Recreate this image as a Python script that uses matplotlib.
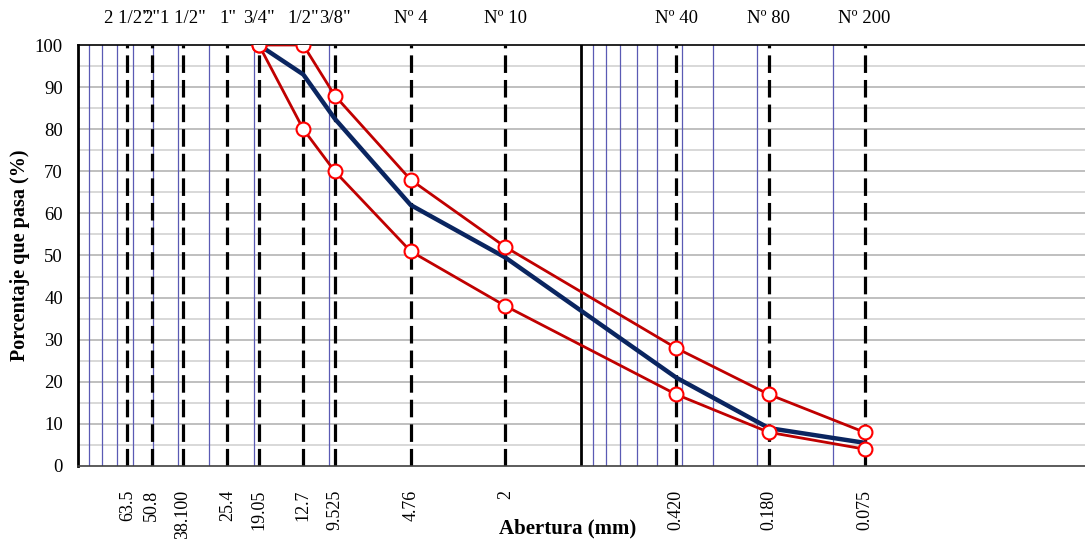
import matplotlib
matplotlib.use('Agg')
import matplotlib.pyplot as plt

# sieve openings (mm) and names
aberturas = [63.5, 50.8, 38.1, 25.4, 19.05, 12.7, 9.525, 4.76, 2.0, 0.42, 0.18, 0.075]
etiquetas = ['63.5', '50.8', '38.100', '25.4', '19.05', '12.7', '9.525', '4.76', '2',
             '0.420', '0.180', '0.075']
tamices = ['2 1/2"', '2"', '1 1/2"', '1"', '3/4"', '1/2"', '3/8"', 'Nº 4', 'Nº 10',
           'Nº 40', 'Nº 80', 'Nº 200']

# gradation band and curve
abert_huso = [19.05, 12.7, 9.525, 4.76, 2.0, 0.42, 0.18, 0.075]
huso_sup = [100, 100, 88, 68, 52, 28, 17, 8]
huso_inf = [100, 80, 70, 51, 38, 17, 8, 4]
curva = [100, 93, 82.5, 62, 49.5, 21, 9, 5.5]

# minor vertical grid (mm)
grid_azul = [90, 80, 70, 60, 50, 40, 30, 20, 10, 0.9, 0.8, 0.7, 0.6, 0.5, 0.4, 0.3, 0.2, 0.1]

plt.rcParams['font.family'] = ['Liberation Serif', 'DejaVu Serif']

fig = plt.figure(figsize=(10.85, 5.39), dpi=100)
ax = fig.add_axes([0.0715, 0.1355, 0.9285, 0.781])
ax.set_xscale('log')
ax.set_xlim(100, 0.01)
ax.set_ylim(0, 100)

for y in range(5, 100, 5):
    ax.axhline(y, color='#b4b4b4' if y % 10 == 0 else '#d2d2d2', lw=1.2, zorder=1)
for g in grid_azul:
    ax.axvline(g, color='#5a5ab4', lw=0.9, zorder=1)
ax.axvline(1.0, color='black', lw=2, zorder=2)
for a in aberturas:
    ax.axvline(a, color='black', lw=2.3, dashes=(5.5, 2.2), zorder=2)

ax.plot(abert_huso, huso_sup, color='#c00000', lw=2, marker='o', ms=10,
        mfc='white', mec='red', mew=1.5, zorder=4)
ax.plot(abert_huso, huso_inf, color='#c00000', lw=2, marker='o', ms=10,
        mfc='white', mec='red', mew=1.5, zorder=4)
ax.plot(abert_huso, curva, color='#0a2560', lw=3.2, zorder=3)

ax.set_xticks(aberturas)
ax.set_xticklabels(etiquetas, rotation=90, va='top', fontsize=13)
ax.xaxis.set_minor_locator(matplotlib.ticker.NullLocator())
ax.tick_params(axis='x', length=0, pad=17)
ax.set_yticks(range(0, 101, 10))
ax.tick_params(axis='y', length=0, pad=10.5, labelsize=13.5)

ax.set_xlabel('Abertura (mm)', fontweight='bold', fontsize=15)
ax.xaxis.set_label_coords(0.4865, -0.124)
ax.set_ylabel('Porcentaje que pasa (%)', fontweight='bold', fontsize=14.5)
ax.yaxis.set_label_coords(-0.0475, 0.5)

secax = ax.secondary_xaxis('top')
secax.set_xticks(aberturas)
secax.set_xticklabels(tamices, fontsize=13.5)
secax.xaxis.set_minor_locator(matplotlib.ticker.NullLocator())
secax.tick_params(length=0, pad=13)
secax.spines['top'].set_visible(False)

ax.spines['left'].set_linewidth(2)
ax.spines['bottom'].set_color('#404040')
ax.spines['bottom'].set_linewidth(1.2)
ax.spines['top'].set_linewidth(1.2)
ax.spines['right'].set_visible(False)

fig.savefig('out.png', dpi=100)
